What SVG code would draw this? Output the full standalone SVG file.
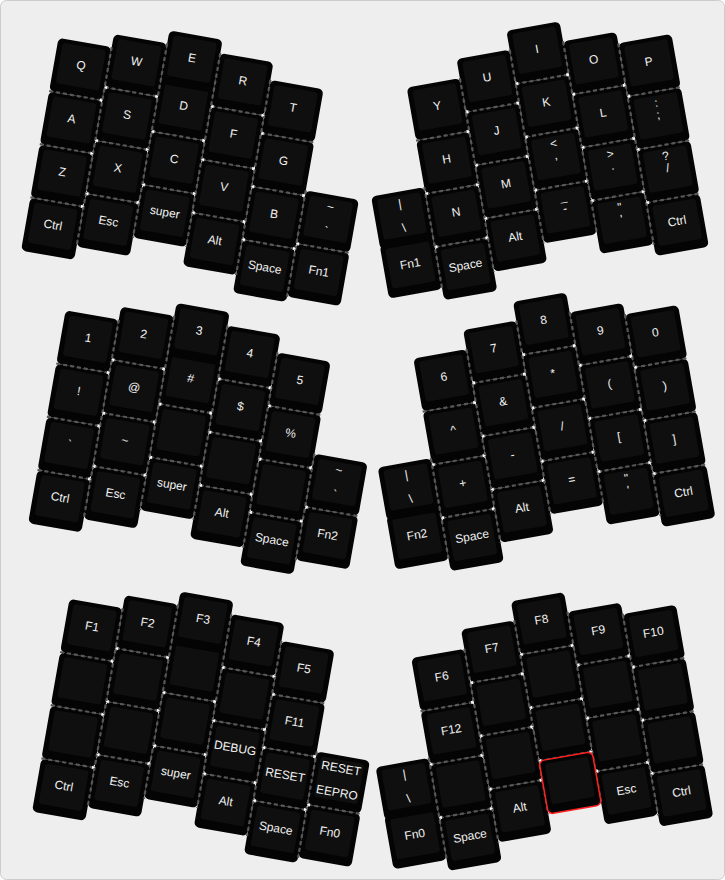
<svg xmlns="http://www.w3.org/2000/svg" xmlns:xlink="http://www.w3.org/1999/xlink" width="725" height="880" viewBox="0 0 725 880">
<style>
.k{fill:#040404}
.f{fill:#0f0f0f}
.sel{fill:#040404;stroke:#ff2020;stroke-width:1.5}
.seam{fill:none;stroke:#575757;stroke-width:2.2;stroke-dasharray:4 3}
.tri{fill:#ffffff}
text{font-family:"Liberation Sans",Arial,sans-serif;font-size:12px;fill:#f2f2f2;text-anchor:middle}
</style>
<defs>
<g id="kb"><rect class="k" x="-27" y="-23" width="54" height="54" rx="5"/><rect class="f" x="-22" y="-19" width="44" height="41" rx="3"/></g>
<path id="tr" class="tri" d="M-2.6,-1.7L0.6,0L-2.6,1.7Z"/>
<path id="tl" class="tri" d="M2.6,-1.7L-0.6,0L2.6,1.7Z"/>
<g id="jl">
<use href="#tr" x="118.2" y="81.1"/><use href="#tr" x="118.2" y="135.1"/><use href="#tr" x="118.2" y="189.1"/>
<use href="#tr" x="172.2" y="67.7"/><use href="#tr" x="172.2" y="121.7"/><use href="#tr" x="172.2" y="175.7"/>
<use href="#tr" x="226.2" y="103"/><use href="#tr" x="226.2" y="157"/>
<use href="#tr" x="280.2" y="68"/><use href="#tr" x="280.2" y="122"/><use href="#tr" x="280.2" y="176"/>
<use href="#tr" x="334.2" y="139.8"/><use href="#tr" x="334.2" y="193.8"/>
<use href="#tl" x="118.2" y="67.7"/><use href="#tl" x="118.2" y="121.7"/><use href="#tl" x="118.2" y="175.7"/>
<use href="#tl" x="172.2" y="103"/><use href="#tl" x="172.2" y="157"/>
<use href="#tl" x="226.2" y="68"/><use href="#tl" x="226.2" y="122"/><use href="#tl" x="226.2" y="176"/>
<use href="#tl" x="280.2" y="85.8"/><use href="#tl" x="280.2" y="139.8"/><use href="#tl" x="280.2" y="193.8"/>
</g>
<g id="jr">
<use href="#tl" x="385.3" y="264.8"/><use href="#tl" x="385.3" y="318.8"/>
<use href="#tr" x="439.3" y="210.8"/><use href="#tr" x="439.3" y="264.8"/><use href="#tr" x="439.3" y="318.8"/>
<use href="#tl" x="439.3" y="191.4"/><use href="#tl" x="439.3" y="245.4"/><use href="#tl" x="439.3" y="299.4"/>
<use href="#tr" x="493.3" y="191.4"/><use href="#tr" x="493.3" y="245.4"/><use href="#tr" x="493.3" y="299.4"/>
<use href="#tl" x="493.3" y="172.2"/><use href="#tl" x="493.3" y="226.2"/><use href="#tl" x="493.3" y="280.2"/>
<use href="#tr" x="547.3" y="172.2"/><use href="#tr" x="547.3" y="226.2"/><use href="#tr" x="547.3" y="280.2"/>
<use href="#tl" x="547.3" y="192.4"/><use href="#tl" x="547.3" y="246.4"/><use href="#tl" x="547.3" y="300.4"/>
<use href="#tr" x="601.3" y="192.4"/><use href="#tr" x="601.3" y="246.4"/><use href="#tr" x="601.3" y="300.4"/>
<use href="#tl" x="601.3" y="204"/><use href="#tl" x="601.3" y="258"/><use href="#tl" x="601.3" y="312"/>
</g>
</defs>
<rect x="0.5" y="0.5" width="724" height="879" rx="6" fill="#eeeeee" stroke="#cccccc"/>

<!-- Layer 1 left -->
<g id="layer1-left" transform="rotate(10)">
<g id="k-q" transform="translate(91.2,50.1)"><use href="#kb"/><text y="4.3">Q</text></g>
<g id="k-a" transform="translate(91.2,104.1)"><use href="#kb"/><text y="4.3">A</text></g>
<g id="k-z" transform="translate(91.2,158.1)"><use href="#kb"/><text y="4.3">Z</text></g>
<g id="k-ctrl-l1" transform="translate(91.2,212.1)"><use href="#kb"/><text y="4.3">Ctrl</text></g>
<g id="k-w" transform="translate(145.2,36.7)"><use href="#kb"/><text y="4.3">W</text></g>
<g id="k-s" transform="translate(145.2,90.7)"><use href="#kb"/><text y="4.3">S</text></g>
<g id="k-x" transform="translate(145.2,144.7)"><use href="#kb"/><text y="4.3">X</text></g>
<g id="k-esc-l1" transform="translate(145.2,198.7)"><use href="#kb"/><text y="4.3">Esc</text></g>
<g id="k-d" transform="translate(199.2,72)"><use href="#kb"/><text y="4.3">D</text></g>
<g id="k-e" transform="translate(199.2,23.5)"><use href="#kb"/><text y="4.3">E</text></g>
<g id="k-c" transform="translate(199.2,126)"><use href="#kb"/><text y="4.3">C</text></g>
<g id="k-super-l1" transform="translate(199.2,180)"><use href="#kb"/><text y="4.3">super</text></g>
<g id="k-r" transform="translate(253.2,37)"><use href="#kb"/><text y="4.3">R</text></g>
<g id="k-f" transform="translate(253.2,91)"><use href="#kb"/><text y="4.3">F</text></g>
<g id="k-v" transform="translate(253.2,145)"><use href="#kb"/><text y="4.3">V</text></g>
<g id="k-alt-l1" transform="translate(253.2,199)"><use href="#kb"/><text y="4.3">Alt</text></g>
<g id="k-t" transform="translate(307.2,54.8)"><use href="#kb"/><text y="4.3">T</text></g>
<g id="k-g" transform="translate(307.2,108.8)"><use href="#kb"/><text y="4.3">G</text></g>
<g id="k-b" transform="translate(307.2,162.8)"><use href="#kb"/><text y="4.3">B</text></g>
<g id="k-space-l1" transform="translate(307.2,216.8)"><use href="#kb"/><text y="4.3">Space</text></g>
<g id="k-tilde-l1" transform="translate(361.2,157.4)"><use href="#kb"/><text y="-7">~</text><text y="17.5">`</text></g>
<g id="k-fn1-l1" transform="translate(361.2,211.4)"><use href="#kb"/><text y="4.3">Fn1</text></g>
</g>

<!-- Layer 1 right -->
<g id="layer1-right" transform="rotate(-10)">
<g id="k-fn1-r1" transform="translate(358.3,330.6)"><use href="#kb"/><text y="4.3">Fn1</text></g>
<g id="k-pipe-r1" transform="translate(358.3,281)"><use href="#kb"/><text y="-7">|</text><text y="17.5">\</text></g>
<g id="k-y" transform="translate(412.3,179.8)"><use href="#kb"/><text y="4.3">Y</text></g>
<g id="k-h" transform="translate(412.3,233.8)"><use href="#kb"/><text y="4.3">H</text></g>
<g id="k-n" transform="translate(412.3,287.8)"><use href="#kb"/><text y="4.3">N</text></g>
<g id="k-space-r1" transform="translate(412.3,341.8)"><use href="#kb"/><text y="4.3">Space</text></g>
<g id="k-u" transform="translate(466.3,160.4)"><use href="#kb"/><text y="4.3">U</text></g>
<g id="k-j" transform="translate(466.3,214.4)"><use href="#kb"/><text y="4.3">J</text></g>
<g id="k-m" transform="translate(466.3,268.4)"><use href="#kb"/><text y="4.3">M</text></g>
<g id="k-alt-r1" transform="translate(466.3,322.4)"><use href="#kb"/><text y="4.3">Alt</text></g>
<g id="k-i" transform="translate(520.3,141.2)"><use href="#kb"/><text y="4.3">I</text></g>
<g id="k-k" transform="translate(520.3,195.2)"><use href="#kb"/><text y="4.3">K</text></g>
<g id="k-comma" transform="translate(520.3,249.2)"><use href="#kb"/><text y="-7.8">&lt;</text><text y="4.3">,</text></g>
<g id="k-minus" transform="translate(520.3,303.2)"><use href="#kb"/><text y="-7.8">_</text><text y="4.3">-</text></g>
<g id="k-o" transform="translate(574.3,161.4)"><use href="#kb"/><text y="4.3">O</text></g>
<g id="k-l" transform="translate(574.3,215.4)"><use href="#kb"/><text y="4.3">L</text></g>
<g id="k-dot" transform="translate(574.3,269.4)"><use href="#kb"/><text y="-7.8">&gt;</text><text y="4.3">.</text></g>
<g id="k-quote-r1" transform="translate(574.3,323.4)"><use href="#kb"/><text y="-7.8">"</text><text y="4.3">'</text></g>
<g id="k-p" transform="translate(628.3,173)"><use href="#kb"/><text y="4.3">P</text></g>
<g id="k-semi" transform="translate(628.3,227)"><use href="#kb"/><text y="-7.8">:</text><text y="4.3">;</text></g>
<g id="k-slash" transform="translate(628.3,281)"><use href="#kb"/><text y="-7.8">?</text><text y="4.3">/</text></g>
<g id="k-ctrl-r1" transform="translate(628.3,335)"><use href="#kb"/><text y="4.3">Ctrl</text></g>
</g>

<!-- Layer 2 left -->
<g id="layer2-left" transform="translate(7.1,272.5) rotate(10)">
<g id="k-1" transform="translate(91.2,50.1)"><use href="#kb"/><text y="4.3">1</text></g>
<g id="k-excl" transform="translate(91.2,104.1)"><use href="#kb"/><text y="4.3">!</text></g>
<g id="k-grave" transform="translate(91.2,158.1)"><use href="#kb"/><text y="4.3">`</text></g>
<g id="k-ctrl-l2" transform="translate(91.2,212.1)"><use href="#kb"/><text y="4.3">Ctrl</text></g>
<g id="k-2" transform="translate(145.2,36.7)"><use href="#kb"/><text y="4.3">2</text></g>
<g id="k-at" transform="translate(145.2,90.7)"><use href="#kb"/><text y="4.3">@</text></g>
<g id="k-tildes" transform="translate(145.2,144.7)"><use href="#kb"/><text y="4.3">~</text></g>
<g id="k-esc-l2" transform="translate(145.2,198.7)"><use href="#kb"/><text y="4.3">Esc</text></g>
<g id="k-hash" transform="translate(199.2,72)"><use href="#kb"/><text y="4.3">#</text></g>
<g id="k-3" transform="translate(199.2,23.5)"><use href="#kb"/><text y="4.3">3</text></g>
<g id="k-l2-c2r2" transform="translate(199.2,126)"><use href="#kb"/></g>
<g id="k-super-l2" transform="translate(199.2,180)"><use href="#kb"/><text y="4.3">super</text></g>
<g id="k-4" transform="translate(253.2,37)"><use href="#kb"/><text y="4.3">4</text></g>
<g id="k-dollar" transform="translate(253.2,91)"><use href="#kb"/><text y="4.3">$</text></g>
<g id="k-l2-c3r2" transform="translate(253.2,145)"><use href="#kb"/></g>
<g id="k-alt-l2" transform="translate(253.2,199)"><use href="#kb"/><text y="4.3">Alt</text></g>
<g id="k-5" transform="translate(307.2,54.8)"><use href="#kb"/><text y="4.3">5</text></g>
<g id="k-pct" transform="translate(307.2,108.8)"><use href="#kb"/><text y="4.3">%</text></g>
<g id="k-l2-c4r2" transform="translate(307.2,162.8)"><use href="#kb"/></g>
<g id="k-space-l2" transform="translate(307.2,216.8)"><use href="#kb"/><text y="4.3">Space</text></g>
<g id="k-tilde-l2" transform="translate(361.2,148.1)"><use href="#kb"/><text y="-7">~</text><text y="17.5">`</text></g>
<g id="k-fn2-l2" transform="translate(361.2,202.1)"><use href="#kb"/><text y="4.3">Fn2</text></g>
</g>

<!-- Layer 2 right -->
<g id="layer2-right" transform="translate(6.6,271) rotate(-10)">
<g id="k-fn2-r2" transform="translate(358.3,330.6)"><use href="#kb"/><text y="4.3">Fn2</text></g>
<g id="k-pipe-r2" transform="translate(358.3,281)"><use href="#kb"/><text y="-7">|</text><text y="17.5">\</text></g>
<g id="k-6" transform="translate(412.3,179.8)"><use href="#kb"/><text y="4.3">6</text></g>
<g id="k-caret" transform="translate(412.3,233.8)"><use href="#kb"/><text y="4.3">^</text></g>
<g id="k-plus" transform="translate(412.3,287.8)"><use href="#kb"/><text y="4.3">+</text></g>
<g id="k-space-r2" transform="translate(412.3,341.8)"><use href="#kb"/><text y="4.3">Space</text></g>
<g id="k-7" transform="translate(466.3,160.4)"><use href="#kb"/><text y="4.3">7</text></g>
<g id="k-amp" transform="translate(466.3,214.4)"><use href="#kb"/><text y="4.3">&amp;</text></g>
<g id="k-dash" transform="translate(466.3,268.4)"><use href="#kb"/><text y="4.3">-</text></g>
<g id="k-alt-r2" transform="translate(466.3,322.4)"><use href="#kb"/><text y="4.3">Alt</text></g>
<g id="k-8" transform="translate(520.3,141.2)"><use href="#kb"/><text y="4.3">8</text></g>
<g id="k-star" transform="translate(520.3,195.2)"><use href="#kb"/><text y="4.3">*</text></g>
<g id="k-sl" transform="translate(520.3,249.2)"><use href="#kb"/><text y="4.3">/</text></g>
<g id="k-eq" transform="translate(520.3,303.2)"><use href="#kb"/><text y="4.3">=</text></g>
<g id="k-9" transform="translate(574.3,161.4)"><use href="#kb"/><text y="4.3">9</text></g>
<g id="k-lp" transform="translate(574.3,215.4)"><use href="#kb"/><text y="4.3">(</text></g>
<g id="k-lb" transform="translate(574.3,269.4)"><use href="#kb"/><text y="4.3">[</text></g>
<g id="k-quote-r2" transform="translate(574.3,323.4)"><use href="#kb"/><text y="-7.8">"</text><text y="4.3">'</text></g>
<g id="k-0" transform="translate(628.3,173)"><use href="#kb"/><text y="4.3">0</text></g>
<g id="k-rp" transform="translate(628.3,227)"><use href="#kb"/><text y="4.3">)</text></g>
<g id="k-rb" transform="translate(628.3,281)"><use href="#kb"/><text y="4.3">]</text></g>
<g id="k-ctrl-r2" transform="translate(628.3,335)"><use href="#kb"/><text y="4.3">Ctrl</text></g>
</g>

<!-- Layer 3 left -->
<g id="layer3-left" transform="translate(11,561) rotate(10)">
<g id="k-f1" transform="translate(91.2,50.1)"><use href="#kb"/><text y="4.3">F1</text></g>
<g id="k-l3-c0r1" transform="translate(91.2,104.1)"><use href="#kb"/></g>
<g id="k-l3-c0r2" transform="translate(91.2,158.1)"><use href="#kb"/></g>
<g id="k-ctrl-l3" transform="translate(91.2,212.1)"><use href="#kb"/><text y="4.3">Ctrl</text></g>
<g id="k-f2" transform="translate(145.2,36.7)"><use href="#kb"/><text y="4.3">F2</text></g>
<g id="k-l3-c1r1" transform="translate(145.2,90.7)"><use href="#kb"/></g>
<g id="k-l3-c1r2" transform="translate(145.2,144.7)"><use href="#kb"/></g>
<g id="k-esc-l3" transform="translate(145.2,198.7)"><use href="#kb"/><text y="4.3">Esc</text></g>
<g id="k-l3-c2r1" transform="translate(199.2,72)"><use href="#kb"/></g>
<g id="k-f3" transform="translate(199.2,23.5)"><use href="#kb"/><text y="4.3">F3</text></g>
<g id="k-l3-c2r2" transform="translate(199.2,126)"><use href="#kb"/></g>
<g id="k-super-l3" transform="translate(199.2,180)"><use href="#kb"/><text y="4.3">super</text></g>
<g id="k-f4" transform="translate(253.2,37)"><use href="#kb"/><text y="4.3">F4</text></g>
<g id="k-l3-c3r1" transform="translate(253.2,91)"><use href="#kb"/></g>
<g id="k-debug" transform="translate(253.2,145)"><use href="#kb"/><text y="4.3">DEBUG</text></g>
<g id="k-alt-l3" transform="translate(253.2,199)"><use href="#kb"/><text y="4.3">Alt</text></g>
<g id="k-f5" transform="translate(307.2,54.8)"><use href="#kb"/><text y="4.3">F5</text></g>
<g id="k-f11" transform="translate(307.2,108.8)"><use href="#kb"/><text y="4.3">F11</text></g>
<g id="k-reset" transform="translate(307.2,162.8)"><use href="#kb"/><text y="4.3">RESET</text></g>
<g id="k-space-l3" transform="translate(307.2,216.8)"><use href="#kb"/><text y="4.3">Space</text></g>
<g id="k-eeprom" transform="translate(361.2,157.4)"><use href="#kb"/><text y="-6.5">RESET</text><text y="18">EEPRO</text></g>
<g id="k-fn0-l3" transform="translate(361.2,211.4)"><use href="#kb"/><text y="4.3">Fn0</text></g>
</g>

<!-- Layer 3 right -->
<g id="layer3-right" transform="translate(4.5,570.7) rotate(-10)">
<g id="k-fn0-r3" transform="translate(358.3,330.6)"><use href="#kb"/><text y="4.3">Fn0</text></g>
<g id="k-pipe-r3" transform="translate(358.3,281)"><use href="#kb"/><text y="-7">|</text><text y="17.5">\</text></g>
<g id="k-f6" transform="translate(412.3,179.8)"><use href="#kb"/><text y="4.3">F6</text></g>
<g id="k-f12" transform="translate(412.3,233.8)"><use href="#kb"/><text y="4.3">F12</text></g>
<g id="k-r3-c1r2" transform="translate(412.3,287.8)"><use href="#kb"/></g>
<g id="k-space-r3" transform="translate(412.3,341.8)"><use href="#kb"/><text y="4.3">Space</text></g>
<g id="k-f7" transform="translate(466.3,160.4)"><use href="#kb"/><text y="4.3">F7</text></g>
<g id="k-r3-c2r1" transform="translate(466.3,214.4)"><use href="#kb"/></g>
<g id="k-r3-c2r2" transform="translate(466.3,268.4)"><use href="#kb"/></g>
<g id="k-alt-r3" transform="translate(466.3,322.4)"><use href="#kb"/><text y="4.3">Alt</text></g>
<g id="k-f8" transform="translate(520.3,141.2)"><use href="#kb"/><text y="4.3">F8</text></g>
<g id="k-r3-c3r1" transform="translate(520.3,195.2)"><use href="#kb"/></g>
<g id="k-r3-c3r2" transform="translate(520.3,249.2)"><use href="#kb"/></g>
<g id="k-f9" transform="translate(574.3,161.4)"><use href="#kb"/><text y="4.3">F9</text></g>
<g id="k-r3-c4r1" transform="translate(574.3,215.4)"><use href="#kb"/></g>
<g id="k-r3-c4r2" transform="translate(574.3,269.4)"><use href="#kb"/></g>
<g id="k-esc-r3" transform="translate(574.3,323.4)"><use href="#kb"/><text y="4.3">Esc</text></g>
<g id="k-f10" transform="translate(628.3,173)"><use href="#kb"/><text y="4.3">F10</text></g>
<g id="k-r3-c5r1" transform="translate(628.3,227)"><use href="#kb"/></g>
<g id="k-r3-c5r2" transform="translate(628.3,281)"><use href="#kb"/></g>
<g id="k-ctrl-r3" transform="translate(628.3,335)"><use href="#kb"/><text y="4.3">Ctrl</text></g>
</g>

<!-- seams between keys -->
<g id="connectors">
<g transform="rotate(10)"><path class="seam" d="M64.2 81.1H118.2M64.2 135.1H118.2M64.2 189.1H118.2M118.2 67.7H172.2M118.2 121.7H172.2M118.2 175.7H172.2M172.2 103H226.2M172.2 157H226.2M226.2 68H280.2M226.2 122H280.2M226.2 176H280.2M280.2 85.8H334.2M280.2 139.8H334.2M280.2 193.8H334.2M334.2 188.4H388.2M118.2 27.1V229.7M172.2 13.7V211M226.2 14V211M280.2 31.8V230M334.2 134.4V242.4"/><use href="#jl"/><use href="#tl" x="334.2" y="188.4"/></g>
<g transform="translate(7.1,272.5) rotate(10)"><path class="seam" d="M64.2 81.1H118.2M64.2 135.1H118.2M64.2 189.1H118.2M118.2 67.7H172.2M118.2 121.7H172.2M118.2 175.7H172.2M172.2 103H226.2M172.2 157H226.2M226.2 68H280.2M226.2 122H280.2M226.2 176H280.2M280.2 85.8H334.2M280.2 139.8H334.2M280.2 193.8H334.2M334.2 179.1H388.2M118.2 27.1V229.7M172.2 13.7V211M226.2 14V211M280.2 31.8V230M334.2 125.1V233.1"/><use href="#jl"/><use href="#tl" x="334.2" y="179.1"/></g>
<g transform="translate(11,561) rotate(10)"><path class="seam" d="M64.2 81.1H118.2M64.2 135.1H118.2M64.2 189.1H118.2M118.2 67.7H172.2M118.2 121.7H172.2M118.2 175.7H172.2M172.2 103H226.2M172.2 157H226.2M226.2 68H280.2M226.2 122H280.2M226.2 176H280.2M280.2 85.8H334.2M280.2 139.8H334.2M280.2 193.8H334.2M334.2 188.4H388.2M118.2 27.1V229.7M172.2 13.7V211M226.2 14V211M280.2 31.8V230M334.2 134.4V242.4"/><use href="#jl"/><use href="#tl" x="334.2" y="188.4"/></g>
<g transform="rotate(-10)"><path class="seam" d="M385.3 210.8H439.3M385.3 264.8H439.3M385.3 318.8H439.3M439.3 191.4H493.3M439.3 245.4H493.3M439.3 299.4H493.3M493.3 172.2H547.3M493.3 226.2H547.3M493.3 280.2H547.3M547.3 192.4H601.3M547.3 246.4H601.3M547.3 300.4H601.3M601.3 204H655.3M601.3 258H655.3M601.3 312H655.3M385.3 258V361.6M439.3 156.8V353.4M493.3 137.4V334.2M547.3 138.4V334.2M601.3 150V354.4"/><use href="#jr"/></g>
<g transform="translate(6.6,271) rotate(-10)"><path class="seam" d="M385.3 210.8H439.3M385.3 264.8H439.3M385.3 318.8H439.3M439.3 191.4H493.3M439.3 245.4H493.3M439.3 299.4H493.3M493.3 172.2H547.3M493.3 226.2H547.3M493.3 280.2H547.3M547.3 192.4H601.3M547.3 246.4H601.3M547.3 300.4H601.3M601.3 204H655.3M601.3 258H655.3M601.3 312H655.3M385.3 258V361.6M439.3 156.8V353.4M493.3 137.4V334.2M547.3 138.4V334.2M601.3 150V354.4"/><use href="#jr"/></g>
<g transform="translate(4.5,570.7) rotate(-10)"><path class="seam" d="M385.3 210.8H439.3M385.3 264.8H439.3M385.3 318.8H439.3M439.3 191.4H493.3M439.3 245.4H493.3M439.3 299.4H493.3M493.3 172.2H547.3M493.3 226.2H547.3M493.3 280.2H547.3M547.3 192.4H601.3M547.3 246.4H601.3M547.3 300.4H601.3M601.3 204H655.3M601.3 258H655.3M601.3 312H655.3M385.3 258V361.6M439.3 156.8V353.4M493.3 137.4V334.2M547.3 138.4V334.2M601.3 150V354.4"/><use href="#jr"/></g>
</g>

<!-- selected key (red outline) -->
<g transform="translate(4.5,570.7) rotate(-10)">
<g id="k-r3-selected" transform="translate(520.3,303.2)"><rect class="sel" x="-27" y="-23" width="54" height="54" rx="5"/><rect class="f" x="-22" y="-19" width="44" height="41" rx="3"/></g>
</g>
</svg>
